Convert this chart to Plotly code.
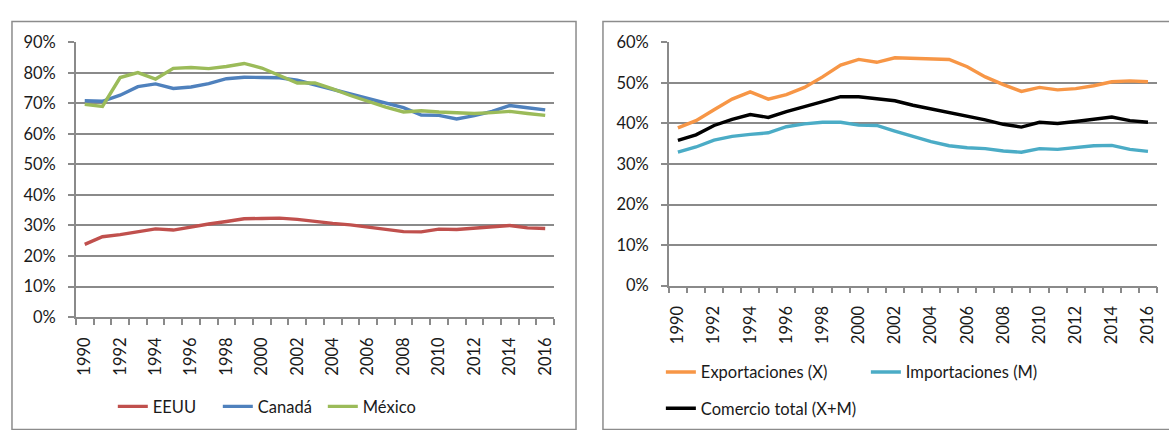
import plotly.graph_objects as go

W, H = 1169, 430

years = list(range(1990, 2017))
tick_years = list(range(1990, 2017, 2))
tick_text = [str(y) for y in tick_years]

eeuu = [23.8, 26.3, 27.0, 27.9, 28.9, 28.5, 29.6, 30.5, 31.3, 32.2, 32.3, 32.4, 32.0, 31.3,
        30.7, 30.2, 29.5, 28.7, 28.0, 27.9, 28.8, 28.7, 29.2, 29.7, 30.0, 29.2, 29.0]
canada = [70.9, 70.7, 72.7, 75.5, 76.4, 74.9, 75.4, 76.5, 78.1, 78.6, 78.5, 78.4, 77.6, 76.1,
          74.8, 73.3, 71.6, 70.1, 68.6, 66.2, 66.1, 64.9, 66.0, 67.4, 69.3, 68.6, 67.9]
mexico = [69.7, 69.0, 78.5, 80.1, 78.0, 81.5, 81.8, 81.4, 82.1, 83.1, 81.6, 79.2, 76.7, 76.7,
          74.8, 72.6, 70.6, 68.8, 67.2, 67.6, 67.2, 67.0, 66.7, 67.0, 67.4, 66.7, 66.1]

export = [38.9, 40.7, 43.4, 46.0, 47.8, 46.0, 47.1, 48.9, 51.5, 54.4, 55.8, 55.1, 56.2, 56.0,
          55.9, 55.8, 54.0, 51.5, 49.6, 47.9, 48.9, 48.3, 48.6, 49.3, 50.3, 50.5, 50.3]
imports = [32.9, 34.2, 35.9, 36.8, 37.3, 37.7, 39.2, 39.9, 40.3, 40.3, 39.6, 39.5, 38.1, 36.8,
           35.5, 34.5, 34.0, 33.8, 33.2, 32.9, 33.8, 33.6, 34.0, 34.5, 34.6, 33.6, 33.1]
total = [35.8, 37.2, 39.5, 41.0, 42.2, 41.5, 42.9, 44.1, 45.3, 46.6, 46.6, 46.2, 45.6, 44.5,
         43.6, 42.8, 41.8, 40.9, 39.8, 39.1, 40.3, 40.0, 40.5, 41.1, 41.6, 40.7, 40.3]

left_series = [("EEUU", eeuu, "#C0504D"), ("Canadá", canada, "#4F81BD"), ("México", mexico, "#9BBB59")]
right_series = [("Exportaciones (X)", export, "#F79646", "legend2"),
                ("Importaciones (M)", imports, "#4BACC6", "legend2"),
                ("Comercio total (X+M)", total, "#000000", "legend3")]

FONT = "Lato"
GRID = "#8A8A8A"
TXT = "#1a1a1a"
FS = 16.5

def px(x):
    return x / W

def py(y):
    return 1 - y / H

fig = go.Figure()

for name, vals, col in left_series:
    fig.add_trace(go.Scatter(x=years, y=[v / 100 for v in vals], name=name, mode="lines",
                             line=dict(color=col, width=3.4), xaxis="x", yaxis="y", legend="legend"))
for name, vals, col, lg in right_series:
    fig.add_trace(go.Scatter(x=years, y=[v / 100 for v in vals], name=name, mode="lines",
                             line=dict(color=col, width=3.4), xaxis="x2", yaxis="y2", legend=lg))

def xaxis_cfg(domain, anchor):
    return dict(domain=domain, anchor=anchor, range=[1989.5, 2016.5],
                tickmode="array", tickvals=tick_years, ticktext=tick_text, tickangle=-90,
                ticks="", showgrid=False, showline=True, linecolor=GRID, linewidth=1.5,
                tickfont=dict(family=FONT, size=FS, color=TXT), ticklabelstandoff=12,
                minor=dict(tickmode="linear", tick0=1989.5, dtick=1, ticks="outside",
                           ticklen=6, tickcolor=GRID, tickwidth=1.5, showgrid=False),
                zeroline=False, fixedrange=True)

def yaxis_cfg(domain, anchor, top, dt):
    return dict(domain=domain, anchor=anchor, range=[0, top], dtick=dt, tick0=0,
                tickformat=".0%", showgrid=True, gridcolor=GRID, gridwidth=1.5,
                showline=True, linecolor=GRID, linewidth=1.5, ticks="outside",
                ticklen=6, tickcolor=GRID, tickwidth=1.5,
                tickfont=dict(family=FONT, size=FS, color=TXT), ticklabelstandoff=9,
                zeroline=False, fixedrange=True)

legend_font = dict(family=FONT, size=FS, color=TXT)

fig.update_layout(
    width=W, height=H, margin=dict(l=0, r=0, t=0, b=0),
    paper_bgcolor="white", plot_bgcolor="white",
    xaxis=xaxis_cfg([px(74), px(553)], "y"),
    yaxis=yaxis_cfg([py(322), py(34)], "x", 0.9, 0.1),
    xaxis2=xaxis_cfg([px(668), px(1157)], "y2"),
    yaxis2=yaxis_cfg([py(289), py(34)], "x2", 0.6, 0.1),
    legend=dict(orientation="h", x=px(111), y=py(416), xanchor="left", yanchor="middle",
                font=legend_font, bgcolor="rgba(0,0,0,0)", itemwidth=30,
                entrywidth=60, entrywidthmode="pixels"),
    legend2=dict(orientation="h", x=px(660), y=py(380), xanchor="left", yanchor="middle",
                 font=legend_font, bgcolor="rgba(0,0,0,0)",
                 entrywidth=160, entrywidthmode="pixels", itemwidth=30),
    legend3=dict(orientation="h", x=px(660), y=py(418), xanchor="left", yanchor="middle",
                 font=legend_font, bgcolor="rgba(0,0,0,0)", itemwidth=30),
    shapes=[
        dict(type="rect", xref="paper", yref="paper", x0=px(10), x1=px(575), y0=py(440), y1=py(12),
             line=dict(color="#8C8C8C", width=1.5), fillcolor="rgba(0,0,0,0)", layer="below"),
        dict(type="rect", xref="paper", yref="paper", x0=px(602), x1=px(1180), y0=py(440), y1=py(12),
             line=dict(color="#8C8C8C", width=1.5), fillcolor="rgba(0,0,0,0)", layer="below"),
    ],
)

fig.write_html("out.html")
